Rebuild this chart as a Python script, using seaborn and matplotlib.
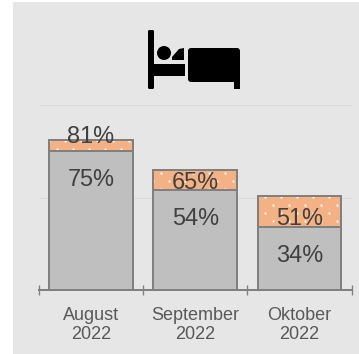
import numpy as np
import pandas as pd
import matplotlib
matplotlib.use("Agg")
import matplotlib.pyplot as plt
import matplotlib.hatch as mhatch
from matplotlib.patches import Rectangle, Circle, FancyBboxPatch, Polygon
from matplotlib.path import Path
from matplotlib.transforms import Affine2D
import seaborn as sns

months = ["August\n2022", "September\n2022", "Oktober\n2022"]
lower = [75, 54, 34]
upper = [81, 65, 51]
W, H, DPI = 359, 354, 96
GREY = "#808080"
TXT = "#404040"
PX, PY = 9.5 / 96, 10.5 / 96


class SparseDots(mhatch.HatchPatternBase):
    """6 x 12 staggered square dots per tile: 16 px columns, 8 px rows at 96 dpi."""
    filled = True

    def __init__(self, hatch, density):
        self.num_vertices = (6 * 12 * 5) if "." in hatch else 0
        self.num_codes = self.num_vertices

    def set_vertices_and_codes(self, vertices, codes):
        s = 1.0 / 96
        sq = np.array([[-s, -s], [s, -s], [s, s], [-s, s], [-s, -s]])
        c = [Path.MOVETO, Path.LINETO, Path.LINETO, Path.LINETO, Path.CLOSEPOLY]
        i = 0
        for r in range(12):
            for k in range(6):
                x = (k + (r % 2) * 0.5) / 6 + PX
                y = r / 12 + PY
                vertices[i:i + 5] = sq + (x % 1, y % 1)
                codes[i:i + 5] = c
                i += 5


mhatch._hatch_types[:] = [SparseDots]

sns.set_theme(style="white")
plt.rcParams["font.family"] = ["Liberation Sans", "DejaVu Sans"]
plt.rcParams["hatch.color"] = "white"
plt.rcParams["hatch.linewidth"] = 0.0

fig = plt.figure(figsize=(W / DPI, H / DPI), dpi=DPI, facecolor="white")
px = Affine2D().scale(1 / W, -1 / H).translate(0, 1) + fig.transFigure
fig.add_artist(Rectangle((13, 2), W - 13, H - 2, transform=px, fc="#e6e6e6", ec="none", zorder=-5))

L, R, T, B = 38.7, 351.7, 105, 290
ax = fig.add_axes([L / W, 1 - B / H, (R - L) / W, (B - T) / H])
ax.patch.set_alpha(0)

df = pd.DataFrame({"month": months, "lower": lower, "upper": upper})
sns.barplot(df, x="month", y="upper", color="#f4b183", saturation=1, width=0.8,
            edgecolor=GREY, linewidth=1.5, ax=ax, zorder=3)
for p in ax.patches:
    p.set_hatch(".")
    p._hatch_color = (1, 1, 1, 1)
sns.barplot(df, x="month", y="lower", color="#bfbfbf", saturation=1, width=0.8,
            edgecolor=GREY, linewidth=1.5, ax=ax, zorder=3)

ax.set_xlim(-0.5, 2.5)
ax.set_ylim(0, 100)
ax.set_xlabel("")
ax.set_ylabel("")
ax.set_yticks([0, 50, 100], labels=[])
ax.tick_params(axis="y", length=0)
ax.grid(axis="y", color="#d9d9d9", lw=0.75, zorder=0)
ax.set_axisbelow(True)
for s in ["top", "left", "right"]:
    ax.spines[s].set_visible(False)
ax.spines["bottom"].set_color(GREY)
ax.spines["bottom"].set_linewidth(1.5)
ax.spines["bottom"].set_zorder(5)

ax.set_xticks([-0.5, 0.5, 1.5, 2.5], labels=[])
ax.set_xticks([0, 1, 2], labels=months, minor=True)
ax.tick_params(axis="x", which="major", bottom=True, direction="inout", length=8, width=1, color=GREY)
ax.tick_params(axis="x", which="minor", bottom=False, pad=8.5, labelsize=13.5, labelcolor="#595959")
for t in ax.get_xticklabels(minor=True):
    t.set_linespacing(1.2)

# value labels: pixel offsets of the label centre from the bar top
low_off = [-28, -28, -28]
up_off = [4, -12.5, -22.5]
for i in range(3):
    ax.annotate(f"{lower[i]}%", (i, lower[i]), xytext=(0, low_off[i] * 72 / DPI),
                textcoords="offset points", ha="center", va="center", fontsize=17.6, color=TXT, zorder=6)
    ax.annotate(f"{upper[i]}%", (i, upper[i]), xytext=(0, up_off[i] * 72 / DPI),
                textcoords="offset points", ha="center", va="center", fontsize=17.6, color=TXT, zorder=6)

# bed icon, drawn in pixel coordinates
k = dict(transform=px, fc="black", ec="none", zorder=10)
fig.add_artist(FancyBboxPatch((149.5, 31.5), 3, 56, boxstyle="round,pad=1.5,rounding_size=1.5", **k))
fig.add_artist(Circle((164, 53), 7, **k))
fig.add_artist(Polygon([(172, 60), (172, 57), (179, 49), (184, 48), (184, 60)], **k))
fig.add_artist(Rectangle((153, 64), 32, 12, **k))
fig.add_artist(FancyBboxPatch((190, 50), 48, 30, boxstyle="round,pad=2,rounding_size=3", **k))
fig.add_artist(Rectangle((234, 76), 6, 13, **k))

fig.savefig("out.png", dpi=DPI)
